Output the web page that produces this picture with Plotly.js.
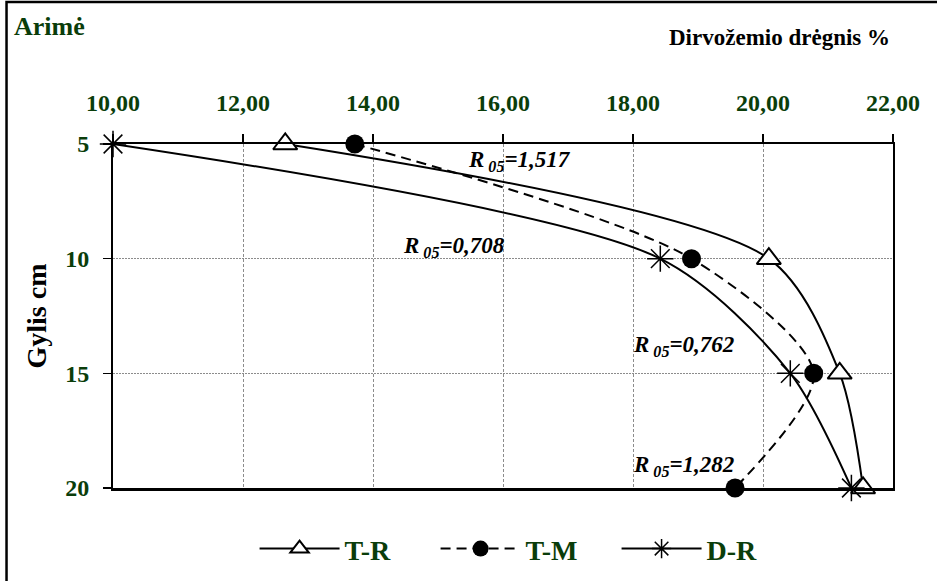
<!DOCTYPE html>
<html>
<head>
<meta charset="utf-8">
<script src="https://cdn.plot.ly/plotly-3.0.1.min.js"></script>
<style>
  html, body { margin: 0; padding: 0; background: #fff; }
  #chart { width: 937px; height: 581px; }
</style>
</head>
<body>
<div id="chart"></div>
<script>
// Soil moisture (%) by depth (cm) for three tillage treatments
const depth = [5, 10, 15, 20];
const moistureTR = [12.65, 20.09, 21.18, 21.54];
const moistureTM = [13.72, 18.90, 20.78, 19.57];
const moistureDR = [10.00, 18.42, 20.42, 21.36];
const seriesNames = ['T-R', 'T-M', 'D-R'];
const xTicks = [10, 12, 14, 16, 18, 20, 22];
const yTicks = [5, 10, 15, 20];

// LSD labels and where they sit (moisture, depth)
const lsdLabels = ['1,517', '0,708', '0,762', '1,282'];
const lsdX = [16.25, 15.25, 18.78, 18.78];
const lsdY = [5.75, 9.5, 13.8, 19.03];

const green = '#0a3d0a';
const serif = 'Liberation Serif, Times New Roman, serif';
const smooth = 0.8;

const traces = [
  {
    x: moistureTR, y: depth, name: seriesNames[0], type: 'scatter', mode: 'lines+markers',
    line: { color: '#000', width: 2, shape: 'spline', smoothing: smooth },
    marker: { symbol: 'triangle-up', size: 21, color: '#fff', line: { color: '#000', width: 2 } },
    cliponaxis: false
  },
  {
    x: moistureTM, y: depth, name: seriesNames[1], type: 'scatter', mode: 'lines+markers',
    line: { color: '#000', width: 2, dash: '10px,6px', shape: 'spline', smoothing: smooth },
    marker: { symbol: 'circle', size: 19, color: '#000' },
    cliponaxis: false
  },
  {
    x: moistureDR, y: depth, name: seriesNames[2], type: 'scatter', mode: 'lines+markers',
    line: { color: '#000', width: 2, shape: 'spline', smoothing: smooth },
    marker: { symbol: 'asterisk-open', size: 22, color: '#000', line: { color: '#000', width: 1.5 } },
    cliponaxis: false
  }
];

const annotations = lsdLabels.map((t, i) => ({
  x: lsdX[i], y: lsdY[i], xref: 'x', yref: 'y',
  text: '<b><i>R<sub> 05</sub>=' + t + '</i></b>',
  showarrow: false,
  font: { family: serif, size: 23, color: '#000' }
}));

annotations.push(
  {
    x: -0.13, y: 1.343, xref: 'paper', yref: 'paper', xanchor: 'left', yanchor: 'middle',
    text: '<b>Arimė</b>', showarrow: false,
    font: { family: serif, size: 26, color: green }
  },
  {
    x: 0.855, y: 1.31, xref: 'paper', yref: 'paper', xanchor: 'center', yanchor: 'middle',
    text: '<b>Dirvožemio drėgnis %</b>', showarrow: false,
    font: { family: serif, size: 23, color: '#000' }
  }
);

const layout = {
  width: 937, height: 581,
  margin: { l: 113, r: 44, t: 144, b: 93, autoexpand: false },
  paper_bgcolor: '#fff', plot_bgcolor: '#fff',
  separators: ', ',
  font: { family: serif, color: '#000' },
  showlegend: true,
  legend: {
    orientation: 'h', x: 0.1815, y: -0.177, xanchor: 'left', yanchor: 'middle',
    itemwidth: 80, entrywidth: 86,
    font: { family: serif, size: 28, color: green, weight: 'bold' },
    bgcolor: 'rgba(0,0,0,0)'
  },
  xaxis: {
    side: 'top', range: [10, 22], tickvals: xTicks, tickformat: '.2f',
    showline: true, linecolor: '#000', linewidth: 2.5, mirror: true,
    ticks: 'outside', ticklen: 8, tickcolor: '#000', tickwidth: 1.5,
    ticklabelstandoff: 13,
    showgrid: true, gridcolor: '#8c8c8c', gridwidth: 1, griddash: '3px,2px',
    zeroline: false, automargin: false,
    tickfont: { family: serif, size: 24, color: green, weight: 'bold' }
  },
  yaxis: {
    range: [20, 5], tickvals: yTicks,
    showline: true, linecolor: '#000', linewidth: 2, mirror: true,
    ticks: 'outside', ticklen: 8, tickcolor: '#000', tickwidth: 1.5,
    ticklabelstandoff: 9,
    showgrid: true, gridcolor: '#8c8c8c', gridwidth: 1, griddash: '2px,1px',
    zeroline: false, automargin: false,
    tickfont: { family: serif, size: 24, color: green, weight: 'bold' },
    title: { text: '<b>Gylis cm</b>', standoff: 10, font: { family: serif, size: 28, color: '#000' } }
  },
  annotations: annotations,
  shapes: [
    {
      type: 'rect', xref: 'paper', yref: 'paper', layer: 'above',
      x0: -0.1365, x1: 1.1, y0: -0.35, y1: 1.4125,
      line: { color: '#000', width: 2.5 }, fillcolor: 'rgba(0,0,0,0)'
    }
  ]
};

Plotly.newPlot('chart', traces, layout, { displayModeBar: false, staticPlot: true });
</script>
</body>
</html>
